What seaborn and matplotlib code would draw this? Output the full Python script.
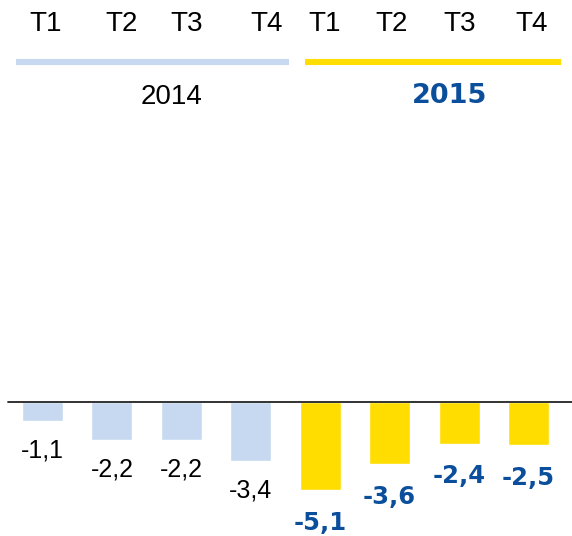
import matplotlib
matplotlib.use("Agg")
import matplotlib.pyplot as plt
import seaborn as sns
import pandas as pd

# data
years = ["2014", "2015"]
quarters = ["T1", "T2", "T3", "T4"]
values_2014 = [-1.1, -2.2, -2.2, -3.4]
values_2015 = [-5.1, -3.6, -2.4, -2.5]

LIGHT_BLUE = "#C6D9F1"
YELLOW = "#FFDD00"
DARK_BLUE = "#0B4F9C"

df = pd.DataFrame({
    "key": [f"{y} {q}" for y in years for q in quarters],
    "year": [y for y in years for _ in quarters],
    "value": values_2014 + values_2015,
})

sns.set_style("white")
plt.rcParams["font.family"] = ["Liberation Sans", "DejaVu Sans"]
BOLD_FONT = ["DejaVu Sans"]  # wide heavy digits, like the reference

W, H = 572, 536
fig = plt.figure(figsize=(W / 100, H / 100), dpi=100)
ax = fig.add_axes([0, 0, 1, 1])

sns.barplot(data=df, x="key", y="value", hue="year", dodge=False,
            palette={"2014": LIGHT_BLUE, "2015": YELLOW},
            width=0.59, saturation=1, legend=False, ax=ax)

# pixel layout: first bar centre at 42.5 px, pitch 69.4 px, baseline at 402 px, 17.3 px per unit
ax.set_xlim(-42.5 / 69.4, 7 + (W - 528.5) / 69.4)
ax.set_ylim(-(H - 402) / 17.3, 402 / 17.3)
ax.axhline(0, xmin=8 / W, xmax=1, color="#222222", lw=1.3)
ax.axis("off")

# value labels under each bar
for i, row in df.iterrows():
    txt = f"{row['value']:.1f}".replace(".", ",")
    if row["year"] == "2015":
        ax.text(i, row["value"] - 1.9, txt, ha="center", va="center",
                fontsize=17.5, fontweight="bold", color=DARK_BLUE, family=BOLD_FONT)
    else:
        ax.text(i, row["value"] - 1.72, txt, ha="center", va="center",
                fontsize=18, color="black")

# header: quarter labels, coloured rules and year names
def px(x, y):
    return x / W, 1 - y / H

q_x = [46, 122, 187, 267, 325, 392, 460, 532]
for q, x in zip(quarters * 2, q_x):
    fig.text(*px(x, 24), q, ha="center", va="center", fontsize=20, color="black")

fig.add_artist(plt.Line2D([16 / W, 289 / W], [1 - 62 / H] * 2, color=LIGHT_BLUE,
                          lw=4.4, solid_capstyle="butt"))
fig.add_artist(plt.Line2D([305 / W, 561 / W], [1 - 62 / H] * 2, color=YELLOW,
                          lw=4.4, solid_capstyle="butt"))

fig.text(*px(172, 97), years[0], ha="center", va="center", fontsize=20, color="black")
fig.text(*px(450, 96), years[1], ha="center", va="center", fontsize=19.5,
         fontweight="bold", color=DARK_BLUE, family=BOLD_FONT)

fig.savefig("out.png", dpi=100)
